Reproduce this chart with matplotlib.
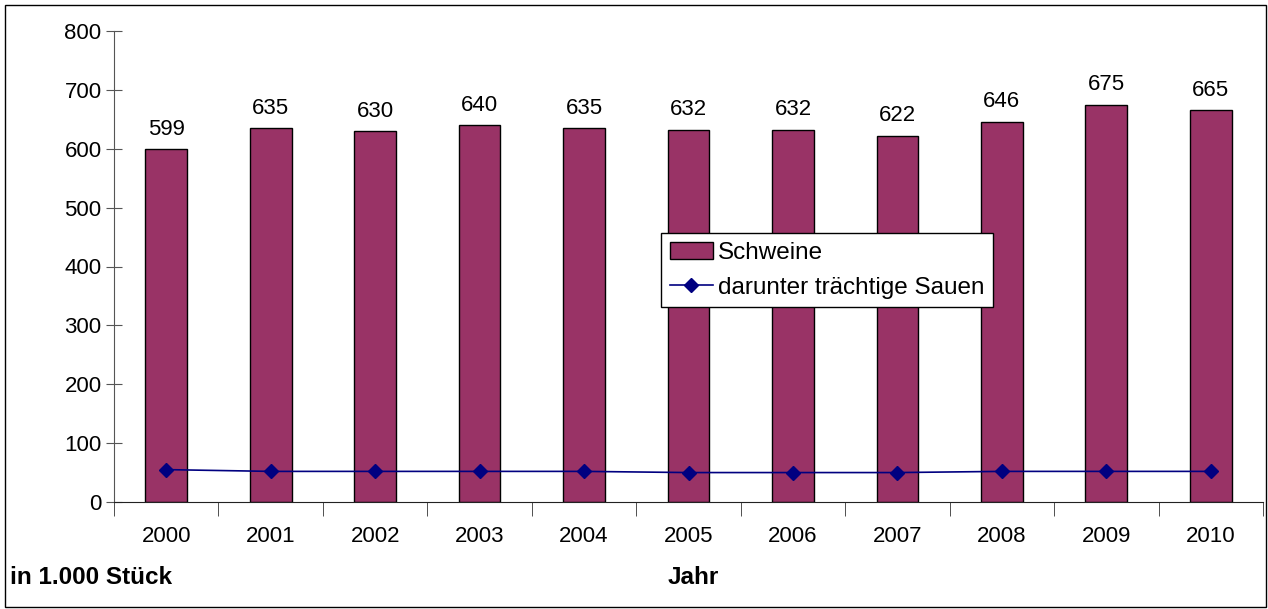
import matplotlib.pyplot as plt
import matplotlib.patches as mpatches
import numpy as np

plt.rcParams['font.family'] = ['Liberation Sans', 'DejaVu Sans']

jahre = ['2000', '2001', '2002', '2003', '2004', '2005', '2006', '2007', '2008', '2009', '2010']
schweine = [599, 635, 630, 640, 635, 632, 632, 622, 646, 675, 665]
sauen = [55, 52, 52, 52, 52, 50, 50, 50, 52, 52, 52]

fig = plt.figure(figsize=(12.68, 6.09), dpi=100)
ax = fig.add_axes([114 / 1268, 1 - 502 / 609, 1149 / 1268, 471 / 609])

x = np.arange(len(jahre))
bars = ax.bar(x, schweine, width=0.4, color='#993366', edgecolor='black', linewidth=1,
              label='Schweine', zorder=2)
linie, = ax.plot(x, sauen, color='#000080', marker='D', markersize=7, linewidth=1.2,
                 label='darunter trächtige Sauen', zorder=3)

for xi, v in zip(x, schweine):
    ax.text(xi, v + 16, str(v), ha='center', va='bottom', fontsize=16)

ax.set_xlim(-0.5, len(jahre) - 0.5)
ax.set_ylim(0, 800)
ax.set_yticks(range(0, 801, 100))
ax.tick_params(axis='y', direction='inout', length=12, labelsize=16, color='#555555', pad=3)
ax.set_xticks(x)
ax.set_xticklabels(jahre)
ax.set_xticks(np.arange(-0.5, len(jahre), 1), minor=True)
ax.tick_params(axis='x', which='major', length=0, labelsize=16, pad=17)
ax.tick_params(axis='x', which='minor', direction='out', length=10, color='#333333')

for s in ['top', 'right']:
    ax.spines[s].set_visible(False)
ax.spines['left'].set_color('#555555')
ax.spines['bottom'].set_color('#222222')

leg = ax.legend([bars, linie], ['Schweine', 'darunter trächtige Sauen'],
                loc='upper left', bbox_to_anchor=((661 - 114) / 1149, (502 - 233) / 471),
                fontsize=17.5, frameon=True, fancybox=False, edgecolor='black', framealpha=1,
                handlelength=1.8, borderaxespad=0, borderpad=0.35, labelspacing=0.55,
                handletextpad=0.2)
leg.get_frame().set_linewidth(1)

fig.text(10 / 1268, 1 - 578 / 609, 'in 1.000 Stück', fontsize=17.5, fontweight='bold', va='center')
fig.text(668 / 1268, 1 - 578 / 609, 'Jahr', fontsize=17.5, fontweight='bold', va='center')

fig.patches.append(mpatches.Rectangle((5 / 1268, 2 / 609), 1 - 7 / 1268, 1 - 7 / 609,
                                      transform=fig.transFigure, fill=False,
                                      edgecolor='black', linewidth=1))

fig.savefig('out.png', dpi=100)
